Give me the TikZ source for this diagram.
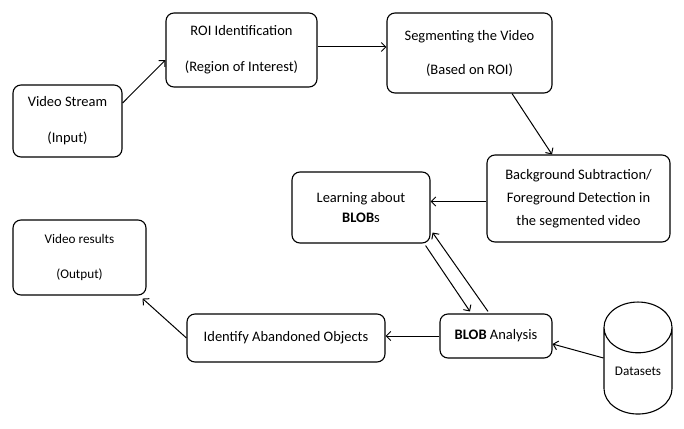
\documentclass[tikz,border=0pt]{standalone}
\usepackage{fontspec}
\setmainfont{Carlito}
\usetikzlibrary{arrows.meta,shapes.geometric}

\begin{document}
\begin{tikzpicture}[x=1pt,y=-1pt]
   \tikzstyle{every node}=[font=\fontsize{14.5}{17}\selectfont]
   \tikzstyle{box}=[draw, rounded corners=8pt, line width=1.1pt, align=center, inner sep=0pt]
   \tikzstyle{small}=[font=\fontsize{13.2}{16}\selectfont]
   \tikzstyle{flow}=[-{Straight Barb[length=4.5pt,width=9pt]}, line width=1pt]
   \useasboundingbox (0,0) rectangle (684,428);

\node[box, minimum width=109pt, minimum height=72pt] (input) at (67.5,121) {Video Stream\\[19pt](Input)};
\node[box, minimum width=151pt, minimum height=74pt] (roi) at (241.5,50) {ROI Identification\\[19pt](Region of Interest)};
\node[box, minimum width=165pt, minimum height=80pt] (seg) at (469.5,53) {Segmenting the Video\\[17pt](Based on ROI)};
\node[box, minimum width=183pt, minimum height=87pt] (bg) at (578.5,198.5) {Background Subtraction/\\[6pt]Foreground Detection in\\[6pt]the segmented video};
\node[box, minimum width=138pt, minimum height=71pt] (learn) at (361,207.5) {Learning about\\[3pt]\textbf{BLOB}s};
\node[box, small, minimum width=133pt, minimum height=75pt] (out) at (79.5,257.5) {Video results\\[19pt](Output)};
\node[box, minimum width=198pt, minimum height=48pt] (ident) at (286,338) {Identify Abandoned Objects};
\node[box, minimum width=112pt, minimum height=44pt] (blob) at (496,336) {\textbf{BLOB} Analysis};
\node[small, draw, line width=1.1pt, cylinder, shape border rotate=90, aspect=1.1,
      minimum width=68pt, minimum height=112pt, inner sep=0pt] (data) at (638,371) {Datasets};

\draw[flow] ([yshift=18pt]input.east) -- ([yshift=-10pt]roi.west);
\draw[flow] ([yshift=3pt]roi.east) -- ([yshift=3pt]roi.east -| seg.west);
\draw[flow] ([xshift=42.5pt]seg.south) -- ([xshift=-26.5pt]bg.north);
\draw[flow] ([yshift=-3pt]bg.west) -- ([yshift=-3pt]bg.west -| learn.east);
\draw[flow] ([xshift=-5pt,yshift=-2pt]learn.south east) -- ([xshift=-26pt,yshift=2pt]blob.north);
\draw[flow] ([xshift=-8pt,yshift=2pt]blob.north) -- ([xshift=2pt,yshift=11pt]learn.south east);
\draw[flow] (blob.west) -- (blob.west -| ident.east);
\draw[flow] ([yshift=13pt]data.west) -- ([yshift=-8pt]blob.east);
\draw[flow] (ident.west) -- ([xshift=-4pt,yshift=-3pt]out.south east);

\end{tikzpicture}
\end{document}
